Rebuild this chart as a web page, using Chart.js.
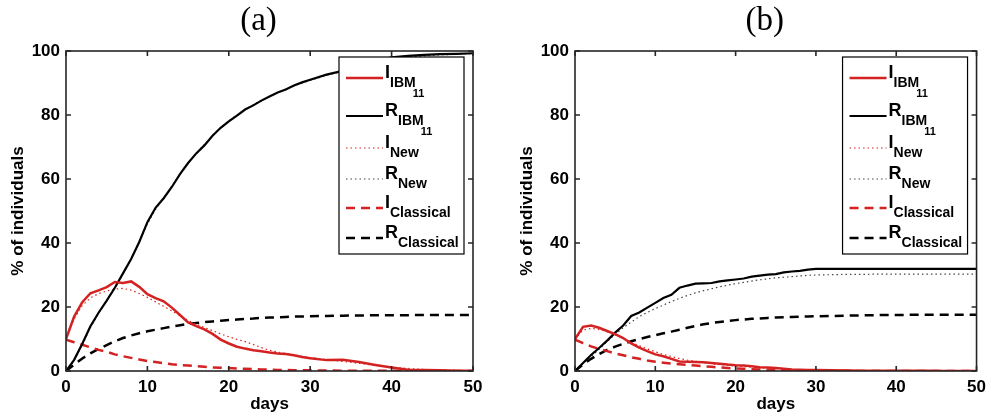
<!DOCTYPE html>
<html>
<head>
<meta charset="utf-8">
<script src="https://cdn.jsdelivr.net/npm/chart.js@4.4.1/dist/chart.umd.min.js"></script>
<style>
  html, body { margin: 0; padding: 0; background: #fff; }
  #wrap { position: relative; width: 992px; height: 417px; }
  .panel { position: absolute; top: 0; width: 496px; height: 417px; }
</style>
</head>
<body>
<div id="wrap">
  <div class="panel" style="left:0"><canvas id="chartA" width="496" height="417"></canvas></div>
  <div class="panel" style="left:496px"><canvas id="chartB" width="496" height="417"></canvas></div>
</div>
<script>
// days sampled from the figure
const days = [0,1,2,3,4,5,6,7,8,9,10,11,12,13,14,15,16,17,18,19,20,
              21,22,23,24,25,26,27,28,29,30,32,34,36,38,40,42,44,46,48,50];

// panel (a)
const aIbmI = [10,17,21.5,24.3,25.2,26.2,27.8,27.5,28,26.3, 24,22.8,21.8,19.8,17.5,15.2,14,13,11.6,9.8,
               8.6,7.6,7,6.5,6.2,5.8,5.5,5.3,4.9,4.4, 4.0, 3.4,3.5,2.8,1.9,1.1,0.4,0.3,0.2,0.1,0.1];
const aIbmR = [0,3.5,8.5,14,18.2,22,26,30.5,35,40.3, 46.5,51,54,57.5,61.5,65,68,70.5,73.5,76,
               78,79.8,81.7,83,84.5,85.8,87,88,89.2,90.2, 91, 92.6,93.8,95.3,96.8,98,98.5,98.8,99,99.1,99.3];
const aNewI = [10,16.3,20.5,22.8,24.2,25,25.6,25.8,25.3,24.2, 23,21.6,20.2,18.8,17.3,15.8,14.6,13.6,12.6,11.6,
               10.7,9.9,9.2,8.3,7.3,6.5,5.9,5.5,5.0,4.6, 4.2, 3.6,3.0,2.4,1.8,1.2,0.8,0.5,0.3,0.2,0.1];
const aNewR = [0,3.3,8.2,13.6,18,22,26,30.3,35,40.5, 46,50.5,54,57.8,61.5,65,68,70.8,73.5,76,
               78.2,80,81.7,83.2,84.6,85.9,87,88.1,89.1,90, 90.8, 92.4,93.7,95,96.3,97.3,98,98.5,98.8,99,99.2];
const aClassI = [9.8,9.0,8.2,7.4,6.6,6.0,5.2,4.6,4.1,3.6, 3.1,2.8,2.4,2.1,1.9,1.7,1.5,1.3,1.1,1.0,
                 0.9,0.8,0.7,0.6,0.5,0.4,0.35,0.3,0.25,0.2, 0.2, 0.15,0.1,0.1,0.1,0.05,0.05,0,0,0,0];
const aClassR = [0,2.0,3.9,5.5,6.9,8.1,9.3,10.3,11.1,11.8, 12.4,12.9,13.4,13.9,14.3,14.7,15.0,15.3,15.5,15.7,
                 15.9,16.1,16.3,16.4,16.6,16.7,16.8,16.9,17.0,17.05, 17.1, 17.2,17.3,17.35,17.4,17.4,17.45,17.5,17.5,17.5,17.5];

// panel (b)
const bIbmI = [10,13.8,14.2,13.5,12.5,11.5,10.3,8.6,7.3,6.2, 5.2,4.6,3.8,3.0,2.9,2.8,2.7,2.5,2.3,2.0,
               1.8,1.7,1.5,1.2,1.1,0.9,0.7,0.5,0.4,0.3, 0.3, 0.2,0.15,0.1,0.1,0.1,0.05,0.05,0,0,0];
const bIbmR = [0,2.5,5,7.2,9.5,12,14.2,17.2,18.3,19.8, 21.3,22.8,23.8,26,26.7,27.3,27.4,27.5,28,28.3,
               28.6,28.9,29.5,29.8,30.1,30.3,30.8,31.1,31.3,31.7, 31.9, 31.9,31.9,31.9,31.9,31.9,31.9,31.9,31.9,31.9,31.9];
const bNewI = [10,12.8,13.3,13,12.3,11.3,10.2,9,7.9,6.9, 6,5.2,4.5,3.9,3.4,3,2.6,2.3,2.0,1.8,
               1.6,1.4,1.2,1.05,0.9,0.75,0.6,0.5,0.4,0.35, 0.3, 0.2,0.15,0.1,0.1,0.1,0.05,0.05,0,0,0];
const bNewR = [0,2.3,4.5,6.8,9.2,11.5,13.5,15.3,17,18.3, 19.5,20.6,21.7,22.7,23.6,24.4,25.1,25.7,26.3,26.8,
               27.3,27.7,28.1,28.5,28.8,29.1,29.3,29.5,29.7,29.9, 30.0, 30.1,30.2,30.2,30.3,30.3,30.3,30.3,30.3,30.3,30.3];
const bClassI = [9.8,8.7,7.7,6.9,6.2,5.5,4.9,4.3,3.8,3.3, 2.9,2.6,2.3,2.1,1.9,1.7,1.5,1.3,1.1,0.95,
                 0.8,0.7,0.55,0.45,0.35,0.3,0.25,0.2,0.15,0.1, 0.1, 0.1,0.05,0,0,0,0,0,0,0,0];
const bClassR = [0,2,3.8,5.3,6.6,7.6,8.5,9.3,10,10.6, 11.2,11.8,12.3,12.9,13.5,14.1,14.6,15,15.3,15.6,
                 15.9,16.1,16.3,16.4,16.6,16.7,16.8,16.9,17,17.05, 17.1, 17.2,17.3,17.4,17.5,17.5,17.55,17.6,17.6,17.6,17.6];

// legend text
const legendMain = ['I', 'R', 'I', 'R', 'I', 'R'];
const legendSub = ['IBM', 'IBM', 'New', 'New', 'Classical', 'Classical'];
const legendSubSub = ['11', '11', '', '', '', ''];

const RED = '#d42222';
const BLACK = '#000000';
const SANS = '"Liberation Sans", Arial, Helvetica, sans-serif';

function series(values, color, width, dash) {
    return {
        data: days.map((d, i) => ({x: d, y: values[i]})),
        borderColor: color,
        borderWidth: width,
        borderDash: dash,
        pointRadius: 0,
        tension: 0,
        fill: false
    };
}

// box, inner ticks, legend and panel title
const framePlugin = {
    id: 'frame',
    afterDatasetsDraw(chart, args, opts) {
        const ctx = chart.ctx;
        const a = chart.chartArea;
        const x = chart.scales.x, y = chart.scales.y;
        ctx.save();
        ctx.strokeStyle = '#262626';
        ctx.lineWidth = 1.6;
        ctx.setLineDash([]);
        ctx.strokeRect(a.left, a.top, a.right - a.left, a.bottom - a.top);
        ctx.beginPath();
        x.ticks.forEach(t => {
            const px = x.getPixelForValue(t.value);
            ctx.moveTo(px, a.bottom); ctx.lineTo(px, a.bottom - 5);
            ctx.moveTo(px, a.top); ctx.lineTo(px, a.top + 5);
        });
        y.ticks.forEach(t => {
            const py = y.getPixelForValue(t.value);
            ctx.moveTo(a.left, py); ctx.lineTo(a.left + 5, py);
            ctx.moveTo(a.right, py); ctx.lineTo(a.right - 5, py);
        });
        ctx.stroke();

        // legend
        const lw = 125, lh = 197;
        const lx = a.right - 9 - lw, ly = a.top + 6;
        ctx.fillStyle = '#fff';
        ctx.fillRect(lx, ly, lw, lh);
        ctx.strokeStyle = '#000';
        ctx.lineWidth = 1.2;
        ctx.strokeRect(lx, ly, lw, lh);
        const rows = [21, 59, 91, 122, 151, 181];
        chart.data.datasets.forEach((ds, i) => {
            const ry = ly + rows[i];
            ctx.beginPath();
            ctx.strokeStyle = ds.borderColor;
            ctx.lineWidth = ds.borderWidth;
            ctx.setLineDash(ds.borderDash || []);
            ctx.moveTo(lx + 7, ry);
            ctx.lineTo(lx + 44, ry);
            ctx.stroke();
            ctx.setLineDash([]);
            ctx.fillStyle = '#000';
            ctx.textBaseline = 'alphabetic';
            ctx.textAlign = 'left';
            ctx.font = 'bold 18px ' + SANS;
            const tx = lx + 46;
            ctx.fillText(legendMain[i], tx, ry);
            const mw = ctx.measureText(legendMain[i]).width;
            ctx.font = 'bold 14px ' + SANS;
            ctx.fillText(legendSub[i], tx + mw, ry + 9);
            const sw = ctx.measureText(legendSub[i]).width;
            if (legendSubSub[i]) {
                ctx.font = 'bold 11px ' + SANS;
                ctx.fillText(legendSubSub[i], tx + mw + sw - 3, ry + 19);
            }
        });

        // panel title
        ctx.fillStyle = '#000';
        ctx.font = '33px "Liberation Serif", "Times New Roman", serif';
        ctx.textAlign = 'center';
        ctx.textBaseline = 'middle';
        ctx.fillText(opts.title, (a.left + a.right) / 2 - 11, 21);
        ctx.restore();
    }
};

function makeChart(id, title, padLeft, padRight, vals) {
    const tickFont = {family: SANS, size: 17, weight: 'bold'};
    new Chart(document.getElementById(id), {
        type: 'line',
        data: {
            datasets: [
                series(vals[0], RED, 2.5, []),
                series(vals[1], BLACK, 2.2, []),
                series(vals[2], RED, 1.2, [1.5, 3]),
                series(vals[3], '#444', 1.2, [1.5, 3]),
                series(vals[4], RED, 2.5, [9, 6]),
                series(vals[5], BLACK, 2.5, [9, 6])
            ]
        },
        options: {
            responsive: false,
            animation: false,
            layout: {padding: {top: 51, right: padRight, left: padLeft, bottom: 0}},
            plugins: {
                legend: {display: false},
                tooltip: {enabled: false},
                frame: {title: title}
            },
            scales: {
                x: {
                    type: 'linear', min: 0, max: 50,
                    ticks: {stepSize: 10, padding: 6, font: tickFont, color: '#000', maxRotation: 0},
                    grid: {display: false, drawTicks: false},
                    border: {display: false},
                    title: {display: true, text: 'days', font: tickFont, color: '#000', padding: {top: 0, bottom: 2}},
                    afterFit: s => { s.height = 46; }
                },
                y: {
                    min: 0, max: 100,
                    ticks: {stepSize: 20, padding: 6, font: tickFont, color: '#000'},
                    grid: {display: false, drawTicks: false},
                    border: {display: false},
                    title: {display: true, text: '% of individuals', font: tickFont, color: '#000', padding: {top: 8, bottom: 0}},
                    afterFit: s => { s.width = 66; }
                }
            }
        },
        plugins: [framePlugin]
    });
}

makeChart('chartA', '(a)', 0, 23, [aIbmI, aIbmR, aNewI, aNewR, aClassI, aClassR]);
makeChart('chartB', '(b)', 13, 10, [bIbmI, bIbmR, bNewI, bNewR, bClassI, bClassR]);
</script>
</body>
</html>
